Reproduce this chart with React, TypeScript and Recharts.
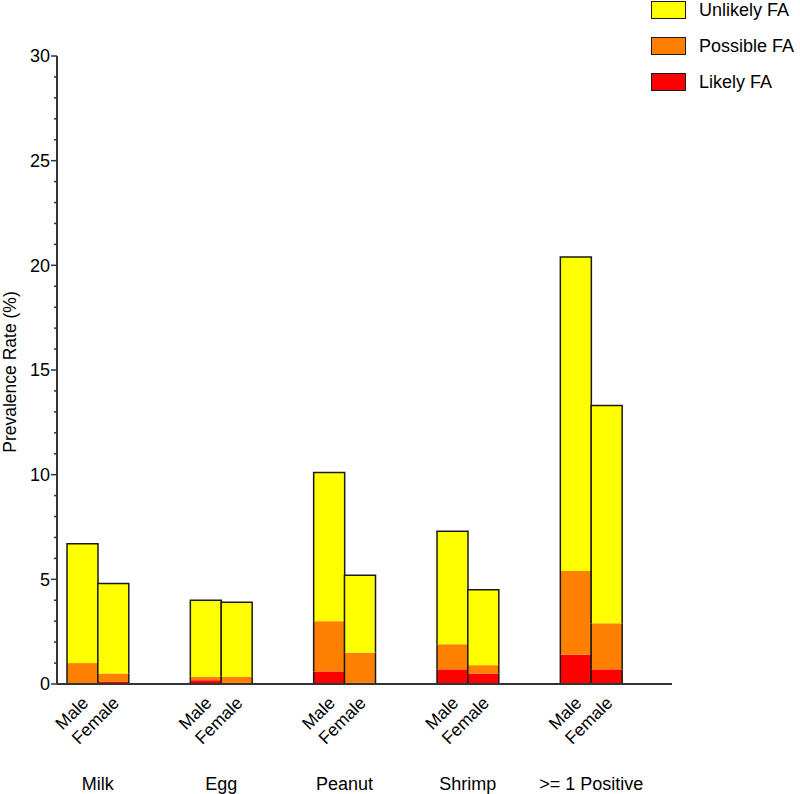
import { BarChart, Bar, XAxis, YAxis, Legend } from 'recharts'

const groups = ['Milk', 'Egg', 'Peanut', 'Shrimp', '>= 1 Positive']

// stacked segments (% prevalence)
const likelyMale = [0, 0.18, 0.6, 0.7, 1.4]
const possibleMale = [1.0, 0.17, 2.4, 1.2, 4.0]
const unlikelyMale = [5.7, 3.65, 7.1, 5.4, 15.0]

const likelyFemale = [0.1, 0.05, 0.05, 0.5, 0.7]
const possibleFemale = [0.4, 0.3, 1.45, 0.4, 2.2]
const unlikelyFemale = [4.3, 3.55, 3.7, 3.6, 10.4]

const yTicks = [0, 1, 2, 3, 4, 5, 6, 7, 8, 9, 10, 11, 12, 13, 14, 15, 16, 17, 18, 19, 20, 21, 22, 23, 24, 25, 26, 27, 28, 29, 30]

const series = [
  { key: 'unlikely', name: 'Unlikely FA', color: '#FFFF00' },
  { key: 'possible', name: 'Possible FA', color: '#FF8000' },
  { key: 'likely', name: 'Likely FA', color: '#FF0000' },
]

const FONT = "Arial, 'Liberation Sans', sans-serif"
const OUTLINE = '#1a1a1a'

type Row = {
  key: string
  group: string
  sex: string
  likely: number | null
  possible: number | null
  unlikely: number | null
}

const rows: Row[] = []
groups.forEach((g, i) => {
  if (i > 0) {
    rows.push({ key: `gap-${i}-a`, group: '', sex: '', likely: null, possible: null, unlikely: null })
    rows.push({ key: `gap-${i}-b`, group: '', sex: '', likely: null, possible: null, unlikely: null })
  }
  rows.push({ key: `${g}-Male`, group: g, sex: 'Male', likely: likelyMale[i], possible: possibleMale[i], unlikely: unlikelyMale[i] })
  rows.push({ key: `${g}-Female`, group: g, sex: 'Female', likely: likelyFemale[i], possible: possibleFemale[i], unlikely: unlikelyFemale[i] })
})

// segment fill with only the outer outline (sides, plus top for the last segment)
const makeShape = (isTop: boolean) => (props: any) => {
  const { x, y, width, height, fill } = props
  if (!width || height == null || height <= 0) return <g />
  const d = isTop
    ? `M${x},${y + height} L${x},${y} L${x + width},${y} L${x + width},${y + height}`
    : `M${x},${y + height} L${x},${y} M${x + width},${y} L${x + width},${y + height}`
  return (
    <g>
      <rect x={x} y={y} width={width} height={height} fill={fill} />
      <path d={d} stroke={OUTLINE} strokeWidth={1.5} fill="none" />
    </g>
  )
}

const XTick = (props: any) => {
  const { x, y, payload, index } = props
  const row = rows[index]
  if (!row || !row.sex) return <g />
  const half = payload.offset || 15.4
  return (
    <g>
      <text
        x={x + 7}
        y={y + 20}
        transform={`rotate(-45, ${x + 7}, ${y + 20})`}
        textAnchor="end"
        fontSize={17.5}
        fontFamily={FONT}
        fill="#000"
      >
        {row.sex}
      </text>
      {row.sex === 'Male' && (
        <text x={x + half} y={y + 106} textAnchor="middle" fontSize={18} fontFamily={FONT} fill="#000">
          {row.group}
        </text>
      )}
    </g>
  )
}

const YTick = (props: any) => {
  const { x, y, payload } = props
  const major = payload.value % 5 === 0
  return (
    <g>
      <line x1={x - (major ? 6 : 3)} x2={x} y1={y} y2={y} stroke="#333" strokeWidth={1.5} />
      {major && (
        <text x={x - 7} y={y} dy="0.36em" textAnchor="end" fontSize={18} fontFamily={FONT} fill="#000">
          {payload.value}
        </text>
      )}
    </g>
  )
}

const LegendBox = () => (
  <div style={{ fontFamily: FONT, fontSize: 18, color: '#000' }}>
    {series.map((s) => (
      <div key={s.key} style={{ display: 'flex', alignItems: 'center', height: 36 }}>
        <div
          style={{
            width: 35,
            height: 18,
            boxSizing: 'border-box',
            background: s.color,
            border: `1.5px solid ${OUTLINE}`,
            marginRight: 13,
          }}
        />
        <span>{s.name}</span>
      </div>
    ))}
  </div>
)

export default function App() {
  return (
    <div style={{ position: 'absolute', left: 0, top: 0, background: '#fff' }}>
      <BarChart
        width={800}
        height={794}
        data={rows}
        margin={{ top: 56, right: 128, bottom: 0, left: 0 }}
        barCategoryGap={0}
        barGap={0}
      >
        <XAxis
          dataKey="key"
          type="category"
          interval={0}
          height={110}
          padding={{ left: 10, right: 50 }}
          tickLine={false}
          tickSize={0}
          tickMargin={0}
          axisLine={{ stroke: '#333', strokeWidth: 2 }}
          tick={<XTick />}
        />
        <YAxis
          type="number"
          domain={[0, 30]}
          ticks={yTicks}
          interval={0}
          width={57}
          tickLine={false}
          tickSize={0}
          tickMargin={0}
          axisLine={{ stroke: '#333', strokeWidth: 2 }}
          tick={<YTick />}
        />
        <Legend
          layout="vertical"
          align="center"
          verticalAlign="middle"
          wrapperStyle={{ left: 651, top: -8, width: 150 }}
          content={<LegendBox />}
        />
        <Bar dataKey="likely" stackId="fa" fill="#FF0000" isAnimationActive={false} shape={makeShape(false)} />
        <Bar dataKey="possible" stackId="fa" fill="#FF8000" isAnimationActive={false} shape={makeShape(false)} />
        <Bar dataKey="unlikely" stackId="fa" fill="#FFFF00" isAnimationActive={false} shape={makeShape(true)} />
        <text
          x={15.5}
          y={372}
          transform="rotate(-90, 15.5, 372)"
          textAnchor="middle"
          fontSize={17.5}
          fontFamily={FONT}
          fill="#000"
        >
          Prevalence Rate (%)
        </text>
      </BarChart>
    </div>
  )
}
